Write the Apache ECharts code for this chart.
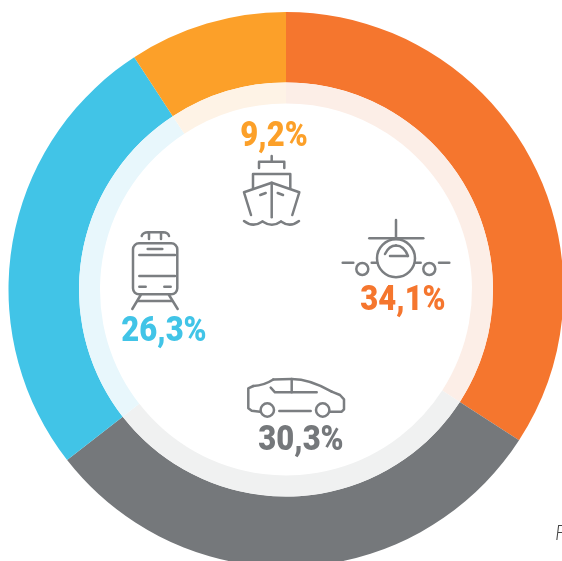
<!DOCTYPE html>
<html><head><meta charset="utf-8">
<style>html,body{margin:0;padding:0;background:#fff;overflow:hidden}#c{width:562px;height:561px}</style>
<script src="https://cdn.jsdelivr.net/npm/echarts@6/dist/echarts.min.js"></script>
</head><body><div id="c"></div>
<script>
const categories = ['Avion', 'Voiture', 'Train', 'Bateau'];
const values = [34.1, 30.3, 26.3, 9.2];
const colors = ['#f5762e', '#75787b', '#41c4e7', '#fca029'];
const lightColors = ['#fceee7', '#f0f1f1', '#e8f7fc', '#fef3e6'];
const labelColors = ['#f5762e', '#75787b', '#41c4e7', '#fca029'];
const labelCenters = [[403, 301], [301, 441.5], [164, 332.5], [274, 137.5]];
const footnote = 'F';

const ICON = '#7b7e81';
const style = {stroke: ICON, lineWidth: 2.5, fill: 'none', lineCap: 'round', lineJoin: 'round'};
const pl = pts => ({type: 'polyline', silent: true, shape: {points: pts}, style});
const ci = (cx, cy, r) => ({type: 'circle', silent: true, shape: {cx, cy, r}, style});
const qb = (x1, y1, cpx1, cpy1, x2, y2) => ({type: 'bezierCurve', silent: true, shape: {x1, y1, cpx1, cpy1, x2, y2}, style});
const rr = (x, y, width, height, r) => ({type: 'rect', silent: true, shape: {x, y, width, height, r}, style});

const ship = [
  pl([[271.7,156],[271.7,161.7]]), pl([[259,168],[259,161.7],[284.3,161.7],[284.3,168]]),
  pl([[253,188],[253,174],[290.3,174],[290.3,188]]),
  pl([[251,215],[244,192.3],[271.7,182.7],[299.3,192.3],[292.3,215]]),
  pl([[271.7,182.7],[271.7,217.3]]), pl([[260.3,195],[265.7,193]]), pl([[277.7,193],[283,195]]),
  qb(244,221,253,228,262.5,221.5), qb(262.5,221.5,272,228,281,221.5), qb(281,221.5,290,228,299,221)
];
const train = [
  qb(141.7,236,143,232.3,148,232.3), pl([[148,232.3],[163,232.3]]), qb(163,232.3,168,232.3,169,236),
  pl([[149,232.3],[149,239]]), pl([[161,232.3],[161,239]]),
  rr(133,243.3,44.3,51,6),
  pl([[147.7,249],[162.3,249]]), pl([[139.3,255],[175,255]]), pl([[139.3,276],[175,276]]),
  pl([[139.3,286.7],[145.7,286.7]]), pl([[164.3,286.7],[170.7,286.7]]),
  pl([[140.7,295],[132.3,309]]), pl([[169,295],[177.7,309]]), pl([[138,301],[171.7,301]])
];
const plane = [
  pl([[396,220],[396,238.3]]), pl([[369.3,238.3],[423.3,238.3]]),
  ci(396,258.3,19), ci(362.3,269,6), ci(429.3,269,6),
  qb(385,254,389,245.5,396,245.5), qb(396,245.5,404,245.5,408,256), pl([[390,256],[407.5,256]]),
  pl([[342.7,262.7],[353.3,262.7]]), pl([[371.7,262.7],[377.3,262.7]]),
  pl([[415,262.7],[420.7,262.7]]), pl([[439,262.7],[449.3,262.7]])
];
const car = [
  pl([[260,411.7],[251.7,410.7],[248.3,408.3],[248.3,388.3],[253.3,386]]),
  qb(253.3,386,264,385.5,273.3,379.5), pl([[273.3,379.5],[291.7,379]]), qb(291.7,379,310,379,331.7,391.7),
  pl([[331.7,391.7],[340,395],[344,399.3],[344,409.3],[341.7,411.7],[330,411.7]]),
  ci(267.3,410,6.7), ci(322.7,410,6.7), pl([[279.3,411],[310.7,411]]),
  pl([[270.7,387.7],[275,392.3],[316.7,392.3]]), pl([[291.7,380],[291.7,392.3]])
];

const labels = values.map((v, i) => ({
  type: 'text', silent: true, x: labelCenters[i][0], y: labelCenters[i][1], scaleY: 1.12,
  style: {text: v.toFixed(1).replace('.', ',') + '%', fill: labelColors[i], align: 'center', verticalAlign: 'middle',
          font: '900 31px Roboto, sans-serif'}
}));

const pieBase = {type: 'pie', center: [286, 289.5], startAngle: 90, silent: true, animation: false,
  label: {show: false}, labelLine: {show: false}, avoidLabelOverlap: false};

const chart = echarts.init(document.getElementById('c'), null, {renderer: 'canvas'});
chart.setOption({
  animation: false,
  backgroundColor: '#fff',
  series: [
    Object.assign({}, pieBase, {radius: [207, 277.5],
      data: categories.map((name, i) => ({name, value: values[i], itemStyle: {color: colors[i]}}))}),
    Object.assign({}, pieBase, {radius: [186, 207],
      data: categories.map((name, i) => ({name, value: values[i], itemStyle: {color: lightColors[i]}}))})
  ],
  graphic: {elements: [
    ...ship, ...train, ...plane, ...car, ...labels,
    {type: 'text', silent: true, x: 555, y: 533, style: {text: footnote, fill: '#444', align: 'left', verticalAlign: 'middle',
      font: 'italic 300 21px Lato, sans-serif'}}
  ]}
});
</script></body></html>
